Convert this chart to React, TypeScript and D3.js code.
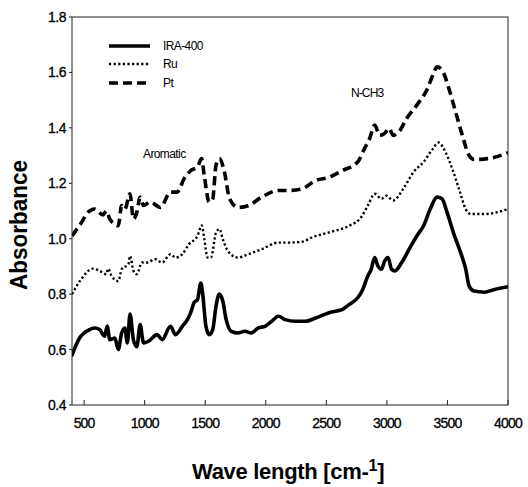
import React from "react";
import * as d3 from "d3";

const xTicks = [500, 1000, 1500, 2000, 2500, 3000, 3500, 4000];
const yTicks = [0.4, 0.6, 0.8, 1.0, 1.2, 1.4, 1.6, 1.8];

const ira400: [number, number][] = [
  [400, 0.58], [460, 0.64], [545, 0.672], [587, 0.678], [628, 0.672], [670, 0.648], [690, 0.685],
  [712, 0.636], [754, 0.642], [782, 0.6], [810, 0.66], [837, 0.678], [857, 0.624], [879, 0.728],
  [907, 0.636], [935, 0.61], [963, 0.69], [990, 0.624], [1032, 0.63], [1102, 0.654], [1144, 0.636],
  [1213, 0.684], [1255, 0.654], [1311, 0.684], [1353, 0.708], [1380, 0.733], [1408, 0.769],
  [1436, 0.78], [1464, 0.84], [1478, 0.805], [1506, 0.684], [1533, 0.654], [1562, 0.672],
  [1589, 0.757], [1617, 0.8], [1645, 0.775], [1673, 0.708], [1715, 0.666], [1770, 0.66],
  [1826, 0.666], [1882, 0.66], [1938, 0.678], [1993, 0.684], [2049, 0.702], [2105, 0.72],
  [2160, 0.708], [2244, 0.702], [2327, 0.702], [2411, 0.714], [2523, 0.733], [2634, 0.745],
  [2690, 0.763], [2759, 0.787], [2801, 0.817], [2843, 0.866], [2871, 0.89], [2899, 0.932],
  [2927, 0.9], [2955, 0.89], [2982, 0.92], [3010, 0.932], [3038, 0.89], [3066, 0.884],
  [3122, 0.914], [3191, 0.968], [3247, 1.01], [3303, 1.047], [3358, 1.107], [3414, 1.15],
  [3455, 1.144], [3497, 1.095], [3553, 1.017], [3609, 0.95], [3651, 0.89], [3679, 0.829],
  [3720, 0.811], [3804, 0.807], [3888, 0.817], [4000, 0.827],
];

const ru: [number, number][] = [
  [400, 0.8], [475, 0.853], [573, 0.892], [628, 0.884], [684, 0.872], [698, 0.892], [726, 0.866],
  [782, 0.847], [810, 0.89], [865, 0.908], [879, 0.938], [907, 0.884], [935, 0.872], [977, 0.914],
  [1018, 0.914], [1088, 0.926], [1144, 0.914], [1213, 0.944], [1255, 0.932], [1311, 0.944],
  [1366, 0.98], [1436, 1.01], [1472, 1.048], [1492, 0.999], [1520, 0.932], [1547, 0.932],
  [1589, 1.022], [1617, 1.035], [1645, 0.999], [1687, 0.956], [1770, 0.932], [1854, 0.944],
  [1965, 0.962], [2105, 0.986], [2188, 0.986], [2300, 0.989], [2383, 1.005], [2523, 1.023],
  [2690, 1.047], [2787, 1.077], [2843, 1.12], [2899, 1.162], [2955, 1.144], [2996, 1.155],
  [3052, 1.138], [3135, 1.18], [3219, 1.24], [3303, 1.277], [3372, 1.32], [3428, 1.347],
  [3469, 1.325], [3539, 1.253], [3595, 1.18], [3651, 1.107], [3692, 1.089], [3804, 1.089],
  [4000, 1.107],
];

const pt: [number, number][] = [
  [400, 1.01], [461, 1.047], [545, 1.1], [587, 1.107], [656, 1.086], [684, 1.1], [712, 1.071],
  [782, 1.047], [810, 1.12], [837, 1.107], [879, 1.162], [907, 1.071], [935, 1.095], [963, 1.15],
  [990, 1.12], [1046, 1.132], [1130, 1.113], [1213, 1.168], [1269, 1.168], [1325, 1.216],
  [1380, 1.246], [1436, 1.259], [1470, 1.289], [1492, 1.228], [1533, 1.132], [1562, 1.144],
  [1589, 1.265], [1617, 1.289], [1659, 1.24], [1701, 1.144], [1770, 1.113], [1854, 1.119],
  [1965, 1.15], [2105, 1.174], [2188, 1.174], [2300, 1.18], [2411, 1.21], [2523, 1.222],
  [2634, 1.246], [2759, 1.277], [2815, 1.325], [2857, 1.361], [2899, 1.41], [2941, 1.373],
  [2982, 1.38], [3018, 1.398], [3052, 1.373], [3108, 1.391], [3163, 1.434], [3247, 1.482],
  [3330, 1.537], [3386, 1.597], [3414, 1.62], [3455, 1.609], [3511, 1.543], [3567, 1.458],
  [3623, 1.373], [3679, 1.3], [3720, 1.286], [3832, 1.289], [4000, 1.31],
];

const seriesNames = ["IRA-400", "Ru", "Pt"];

export default function App() {
  const W = 528, H = 487;
  const left = 72, right = 508, top = 17, bottom = 405;
  const x = d3.scaleLinear().domain([400, 4000]).range([left, right]);
  const y = d3.scaleLinear().domain([0.4, 1.8]).range([bottom, top]);
  const line = d3.line<[number, number]>().x(d => x(d[0])).y(d => y(d[1])).curve(d3.curveMonotoneX);

  const styles = [
    { data: ira400, w: 3.6, dash: undefined as string | undefined, cap: "round" },
    { data: ru, w: 2.4, dash: "2.2,2.4", cap: "butt" },
    { data: pt, w: 3.6, dash: "9,5", cap: "butt" },
  ];
  const font = "'Liberation Sans', Arial, sans-serif";

  return (
    <svg width={W} height={H} style={{ position: "absolute", left: 0, top: 0, background: "#fff" }} fontFamily={font}>
      <rect x={0} y={0} width={W} height={H} fill="#fff" />
      <defs>
        <clipPath id="plot">
          <rect x={left} y={top} width={right - left} height={bottom - top} />
        </clipPath>
      </defs>
      <g clipPath="url(#plot)">
        {styles.map((s, i) => (
          <path key={i} d={line(s.data) || ""} fill="none" stroke="#000" strokeWidth={s.w}
            strokeDasharray={s.dash} strokeLinecap={s.cap as any} strokeLinejoin="round" />
        ))}
      </g>
      <rect x={left} y={top} width={right - left} height={bottom - top} fill="none" stroke="#222" strokeWidth={1} />
      {xTicks.map(t => (
        <g key={t}>
          <line x1={x(t)} x2={x(t)} y1={bottom} y2={bottom - 5} stroke="#222" strokeWidth={1} />
          <text x={x(t)} y={428} textAnchor="middle" fontSize={14} letterSpacing={-0.8}
            stroke="#000" strokeWidth={0.3}>{t}</text>
        </g>
      ))}
      {yTicks.map(t => (
        <g key={t}>
          <line x1={left - 3} x2={left} y1={y(t)} y2={y(t)} stroke="#222" strokeWidth={1} />
          <text x={66} y={y(t) + 5} textAnchor="end" fontSize={14} letterSpacing={-0.5}
            stroke="#000" strokeWidth={0.3}>{t.toFixed(1)}</text>
        </g>
      ))}
      <text transform={`translate(27,225) rotate(-90)`} textAnchor="middle" fontSize={24} fontWeight="bold"
        textLength={130} lengthAdjust="spacingAndGlyphs">Absorbance</text>
      <text x={192} y={479} fontSize={22} fontWeight="bold" letterSpacing={-0.3}>
        Wave length [cm<tspan>-</tspan><tspan dy={-8} fontSize={16}>1</tspan><tspan dy={8}>]</tspan>
      </text>
      <text x={143} y={158} fontSize={12} letterSpacing={-0.6}>Aromatic</text>
      <text x={351} y={97} fontSize={12} letterSpacing={-0.9}>N-CH3</text>
      {seriesNames.map((n, i) => {
        const ly = [46, 64, 83][i];
        const s = styles[i];
        return (
          <g key={n}>
            <line x1={109} x2={150} y1={ly} y2={ly} stroke="#000" strokeWidth={s.w}
              strokeDasharray={s.dash} />
            <text x={163} y={ly + 4} fontSize={12} letterSpacing={-0.6}>{n}</text>
          </g>
        );
      })}
    </svg>
  );
}
